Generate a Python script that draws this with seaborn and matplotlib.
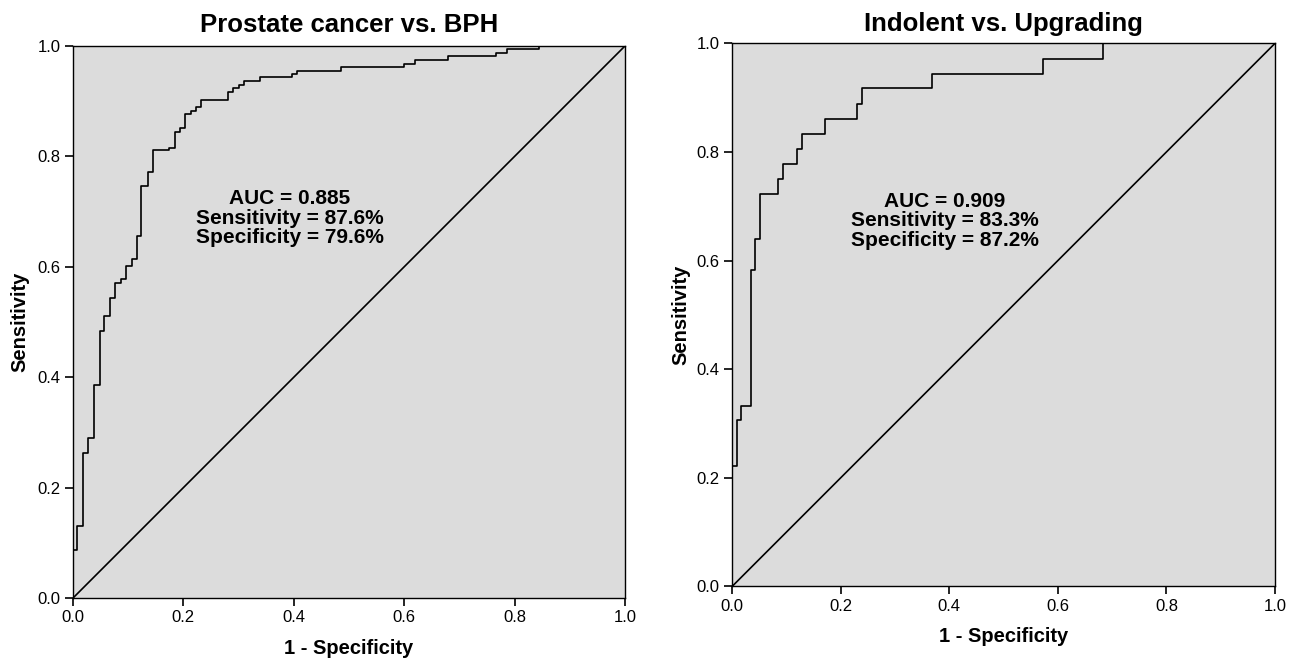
import matplotlib
matplotlib.use("Agg")
import matplotlib.pyplot as plt
import seaborn as sns
import pandas as pd

# ---- data ----
titles = ["Prostate cancer vs. BPH", "Indolent vs. Upgrading"]

pca_fpr = [0, 0, 0.008, 0.0175, 0.028, 0.038, 0.048, 0.057, 0.067, 0.076, 0.086, 0.096,
           0.106, 0.115, 0.124, 0.135, 0.144, 0.174, 0.184, 0.193, 0.203, 0.213, 0.223,
           0.232, 0.280, 0.289, 0.300, 0.309, 0.339, 0.397, 0.406, 0.485, 0.600, 0.620,
           0.679, 0.766, 0.786, 0.844, 1.0]
pca_tpr = [0, 0.087, 0.131, 0.262, 0.289, 0.386, 0.484, 0.511, 0.544, 0.570, 0.577, 0.602,
           0.615, 0.655, 0.746, 0.772, 0.812, 0.816, 0.845, 0.851, 0.877, 0.883, 0.890,
           0.903, 0.916, 0.923, 0.929, 0.936, 0.943, 0.949, 0.955, 0.962, 0.968, 0.975,
           0.982, 0.988, 0.995, 1.0, 1.0]

ind_fpr = [0, 0, 0.0086, 0.017, 0.034, 0.042, 0.042, 0.052, 0.085, 0.094, 0.120, 0.128,
           0.171, 0.231, 0.240, 0.368, 0.572, 0.684, 1.0]
ind_tpr = [0, 0.222, 0.306, 0.333, 0.583, 0.611, 0.639, 0.722, 0.750, 0.778, 0.806, 0.833,
           0.861, 0.889, 0.917, 0.944, 0.972, 1.0, 1.0]

annotations = ["AUC = 0.885\nSensitivity = 87.6%\nSpecificity = 79.6%",
               "AUC = 0.909\nSensitivity = 83.3%\nSpecificity = 87.2%"]
ticks = [0.0, 0.2, 0.4, 0.6, 0.8, 1.0]
tick_labels = ["0.0", "0.2", "0.4", "0.6", "0.8", "1.0"]

# ---- style ----
sns.set_theme(style="ticks")
plt.rcParams["font.family"] = ["Liberation Sans", "DejaVu Sans"]
plt.rcParams["text.color"] = "black"
plt.rcParams["axes.labelcolor"] = "black"

fig = plt.figure(figsize=(12.95, 6.58), dpi=100)
ax1 = fig.add_axes([0.0564, 0.0912, 0.4262, 0.8389])
ax2 = fig.add_axes([0.5653, 0.1087, 0.4193, 0.8255])

panels = [
    (ax1, pca_fpr, pca_tpr, titles[0], annotations[0], (0.393, 0.688), 10, 10, 5.5),
    (ax2, ind_fpr, ind_tpr, titles[1], annotations[1], (0.392, 0.673), 9, 9.5, 4),
]

for ax, fpr, tpr, title, ann, txtpos, tpad, xpad, ypad in panels:
    df = pd.DataFrame({"fpr": fpr, "tpr": tpr})
    ax.set_facecolor("#dcdcdc")
    sns.lineplot(data=pd.DataFrame({"x": ticks[::5], "y": ticks[::5]}), x="x", y="y",
                 ax=ax, color="black", linewidth=1.2)
    sns.lineplot(data=df, x="fpr", y="tpr", ax=ax, color="black", linewidth=1.2,
                 drawstyle="steps-post", sort=False, estimator=None)
    ax.set_xlim(0, 1)
    ax.set_ylim(0, 1)
    ax.set_xticks(ticks)
    ax.set_yticks(ticks)
    ax.set_xticklabels(tick_labels)
    ax.set_yticklabels(tick_labels)
    ax.tick_params(direction="out", length=6, width=1.2, labelsize=12, color="black",
                   labelcolor="black", pad=3)
    for s in ax.spines.values():
        s.set_color("black")
        s.set_linewidth(1)
        s.set_visible(True)
    ax.set_title(title, fontsize=18.5, fontweight="bold", pad=tpad, color="black")
    ax.set_xlabel("1 - Specificity", fontsize=14.5, fontweight="bold", labelpad=xpad)
    ax.set_ylabel("Sensitivity", fontsize=14.5, fontweight="bold", labelpad=ypad)
    ax.text(txtpos[0], txtpos[1], ann, ha="center", va="center", fontsize=15,
            fontweight="bold", linespacing=1.05, transform=ax.transData, color="black")

fig.savefig("out.png", dpi=100)
